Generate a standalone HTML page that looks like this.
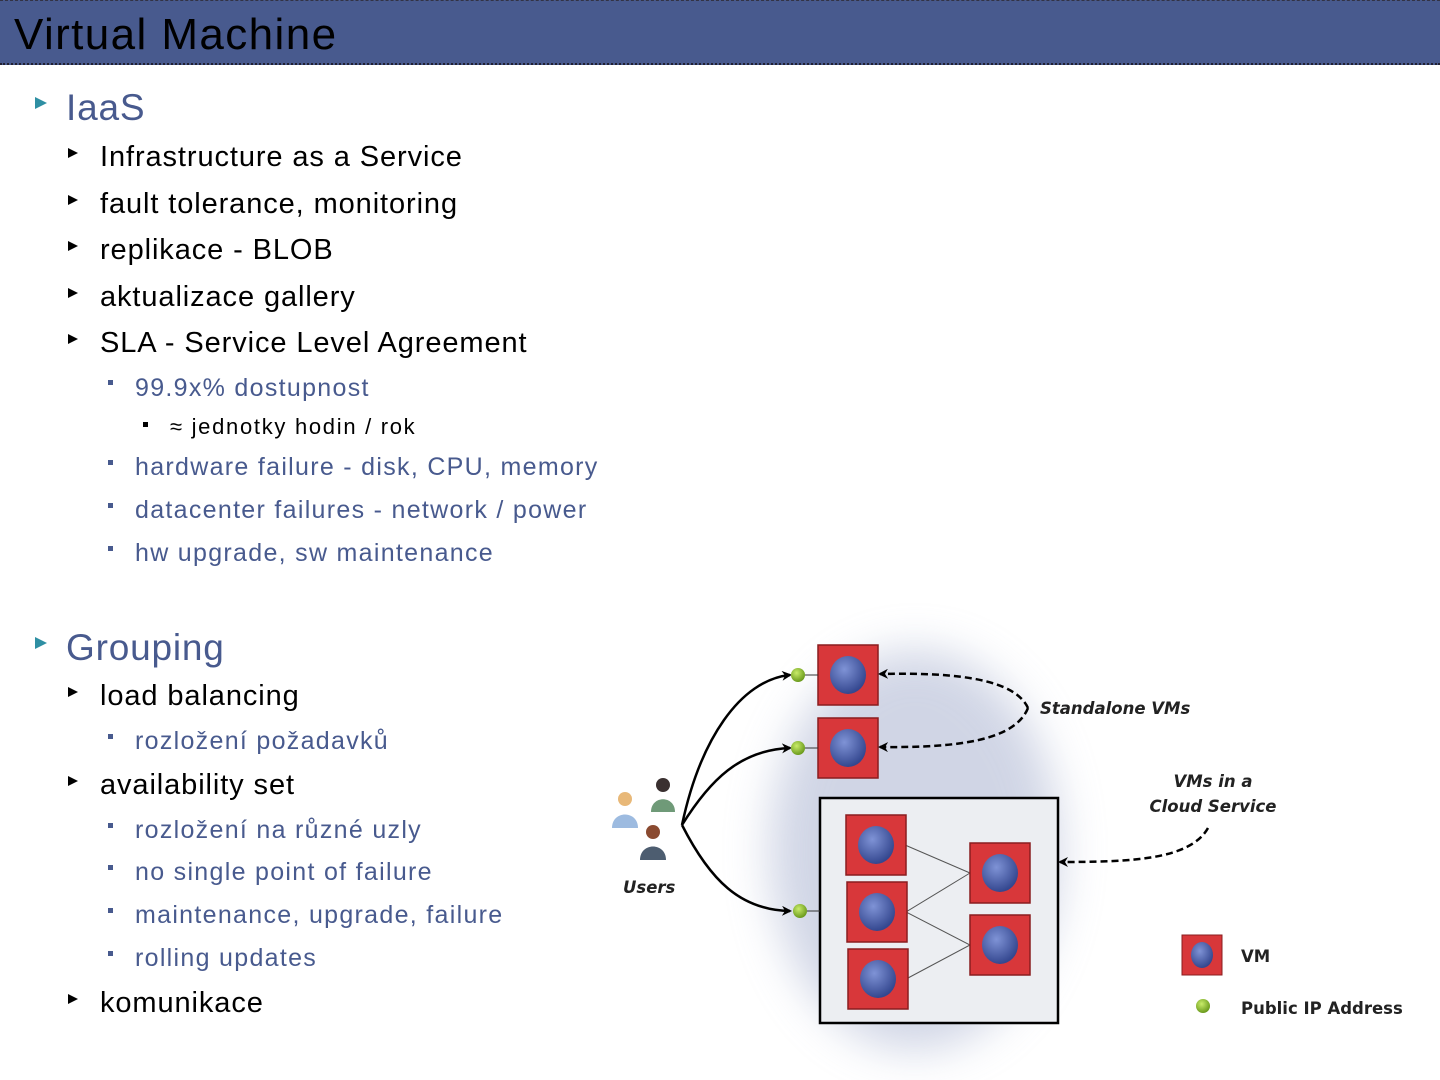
<!DOCTYPE html>
<html><head><meta charset="utf-8"><style>
body{margin:0;width:1440px;height:1080px;background:#fff;position:relative;overflow:hidden;font-family:"Liberation Sans",sans-serif}
.hdr{position:absolute;left:0;top:0;width:1440px;height:62px;background:#485a8e;border-bottom:2px dotted #223;border-top:1px dashed #334}
.t{position:absolute;white-space:nowrap;line-height:1}
.l1{font-size:37px;color:#485a8e;left:66px;letter-spacing:0.8px}
.l2{font-size:29px;color:#000;left:100px;letter-spacing:0.9px}
.l3{font-size:25px;color:#485a8e;left:135px;letter-spacing:1.3px}
.l4{font-size:22px;color:#000;left:170px;letter-spacing:1.7px}
.b1{position:absolute;left:35px;width:0;height:0;border-left:12px solid #2f8fa3;border-top:6px solid transparent;border-bottom:6px solid transparent}
.b2{position:absolute;left:68px;width:0;height:0;border-left:10px solid #000;border-top:5px solid transparent;border-bottom:5px solid transparent}
.b3{position:absolute;left:108px;width:5px;height:5px;background:#485a8e}
.b4{position:absolute;left:143px;width:5px;height:5px;background:#000}
</style></head><body>
<div class="hdr"></div>
<div class="t" style="left:14px;top:13px;font-size:44px;color:#000;letter-spacing:1.4px">Virtual Machine</div>

<div class="b1" style="top:97px"></div><div class="t l1" style="top:89px">IaaS</div>
<div class="b2" style="top:148px"></div><div class="t l2" style="top:143px">Infrastructure as a Service</div>
<div class="b2" style="top:195px"></div><div class="t l2" style="top:190px">fault tolerance, monitoring</div>
<div class="b2" style="top:241px"></div><div class="t l2" style="top:236px">replikace - BLOB</div>
<div class="b2" style="top:288px"></div><div class="t l2" style="top:283px">aktualizace gallery</div>
<div class="b2" style="top:334px"></div><div class="t l2" style="top:329px">SLA - Service Level Agreement</div>
<div class="b3" style="top:380px"></div><div class="t l3" style="top:376px">99.9x% dostupnost</div>
<div class="b4" style="top:422px"></div><div class="t l4" style="top:416px">≈ jednotky hodin / rok</div>
<div class="b3" style="top:460px"></div><div class="t l3" style="top:455px">hardware failure - disk, CPU, memory</div>
<div class="b3" style="top:503px"></div><div class="t l3" style="top:498px">datacenter failures - network / power</div>
<div class="b3" style="top:546px"></div><div class="t l3" style="top:541px">hw upgrade, sw maintenance</div>

<div class="b1" style="top:637px"></div><div class="t l1" style="top:629px">Grouping</div>
<div class="b2" style="top:687px"></div><div class="t l2" style="top:682px">load balancing</div>
<div class="b3" style="top:734px"></div><div class="t l3" style="top:729px">rozložení požadavků</div>
<div class="b2" style="top:776px"></div><div class="t l2" style="top:771px">availability set</div>
<div class="b3" style="top:823px"></div><div class="t l3" style="top:818px">rozložení na různé uzly</div>
<div class="b3" style="top:865px"></div><div class="t l3" style="top:860px">no single point of failure</div>
<div class="b3" style="top:908px"></div><div class="t l3" style="top:903px">maintenance, upgrade, failure</div>
<div class="b3" style="top:951px"></div><div class="t l3" style="top:946px">rolling updates</div>
<div class="b2" style="top:994px"></div><div class="t l2" style="top:989px">komunikace</div>

<svg style="position:absolute;left:0;top:0" width="1440" height="1080">
<defs>
<filter id="bl" x="-50%" y="-50%" width="200%" height="200%"><feGaussianBlur stdDeviation="22"/></filter>
<radialGradient id="ball" cx="40%" cy="35%" r="65%"><stop offset="0" stop-color="#7f93d6"/><stop offset="1" stop-color="#34478f"/></radialGradient>
<radialGradient id="gd" cx="40%" cy="35%" r="65%"><stop offset="0" stop-color="#c9ec6a"/><stop offset="1" stop-color="#6a9a1c"/></radialGradient>
<marker id="ar" markerWidth="10" markerHeight="10" refX="8" refY="5" orient="auto" markerUnits="userSpaceOnUse"><path d="M0,0 L10,5 L0,10 L3,5 z" fill="#000"/></marker>
<g id="vm"><rect x="0" y="0" width="60" height="60" fill="#d8373a" stroke="#8a1d1f" stroke-width="1.5"/><ellipse cx="30" cy="30" rx="18" ry="19" fill="url(#ball)"/></g>
</defs>
<ellipse cx="915" cy="850" rx="145" ry="200" fill="#b7bfd8" opacity="0.65" filter="url(#bl)"/>
<rect x="820" y="798" width="238" height="225" fill="#eceef2" stroke="#000" stroke-width="2.5"/>
<g stroke="#555" stroke-width="1" fill="none">
<path d="M905,845 L970,873 L906,912 L970,945 L908,978"/>
</g>
<use href="#vm" x="818" y="645"/><use href="#vm" x="818" y="718"/>
<use href="#vm" x="846" y="815"/><use href="#vm" x="847" y="882"/><use href="#vm" x="848" y="949"/>
<use href="#vm" x="970" y="843"/><use href="#vm" x="970" y="915"/>
<g stroke="#000" stroke-width="2.5" fill="none" marker-end="url(#ar)">
<path d="M682,825 C700,740 740,680 790,675"/>
<path d="M682,825 C710,780 740,750 790,748"/>
<path d="M682,825 C710,880 740,910 790,911"/>
</g>
<line x1="805" y1="675" x2="818" y2="675" stroke="#333"/><line x1="805" y1="748" x2="818" y2="748" stroke="#333"/><line x1="807" y1="911" x2="820" y2="911" stroke="#333"/>
<circle cx="798" cy="675" r="7" fill="url(#gd)"/><circle cx="798" cy="748" r="7" fill="url(#gd)"/><circle cx="800" cy="911" r="7" fill="url(#gd)"/>
<g stroke="#000" stroke-width="2.5" fill="none" stroke-dasharray="7,4" marker-end="url(#ar)">
<path d="M1028,708 C1015,680 960,672 880,674"/>
<path d="M1028,708 C1015,740 960,748 880,747"/>
<path d="M1208,828 C1190,860 1130,862 1060,862"/>
</g>
<g font-family="'DejaVu Sans',sans-serif" font-weight="bold" font-style="italic" fill="#222" font-size="16.5">
<text x="1040" y="714">Standalone VMs</text>
<text x="1213" y="787" text-anchor="middle">VMs in a</text>
<text x="1213" y="812" text-anchor="middle">Cloud Service</text>
<text x="623" y="893">Users</text>
</g>
<g font-family="'DejaVu Sans',sans-serif" font-weight="bold" fill="#222" font-size="16.5">
<text x="1241" y="962">VM</text>
<text x="1241" y="1014">Public IP Address</text>
</g>
<rect x="1182" y="935" width="40" height="40" fill="#d8373a" stroke="#8a1d1f"/><ellipse cx="1202" cy="955" rx="11" ry="13" fill="url(#ball)"/>
<circle cx="1203" cy="1006" r="7" fill="url(#gd)"/>
<g>
<circle cx="625" cy="799" r="7" fill="#e8b878"/><path d="M612,828 C612,810 638,810 638,828 Z" fill="#9dbbe0"/>
<circle cx="663" cy="785" r="7" fill="#3a3030"/><path d="M651,812 C651,795 675,795 675,812 Z" fill="#6f9a78"/>
<circle cx="653" cy="832" r="7" fill="#8a4a30"/><path d="M640,860 C640,842 666,842 666,860 Z" fill="#4d5d70"/>
</g>
</svg>
</body></html>
